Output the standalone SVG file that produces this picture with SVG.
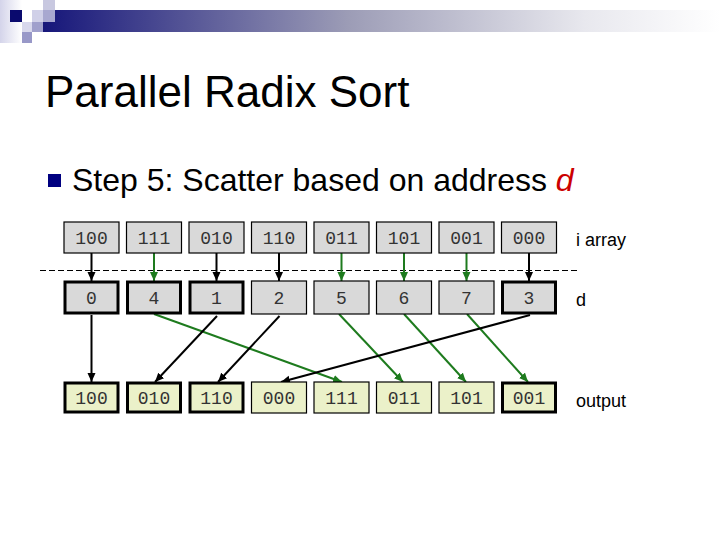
<svg xmlns="http://www.w3.org/2000/svg" width="720" height="540" viewBox="0 0 720 540">
<defs>
<linearGradient id="bar" x1="0" y1="0" x2="1" y2="0">
<stop offset="0" stop-color="#16167a"/>
<stop offset="0.45" stop-color="#9c9cb6"/>
<stop offset="0.8" stop-color="#e8e8ee"/>
<stop offset="1" stop-color="#ffffff"/>
</linearGradient>
<linearGradient id="side" x1="0" y1="0" x2="1" y2="0">
<stop offset="0" stop-color="#d4d4ea"/>
<stop offset="1" stop-color="#ffffff"/>
</linearGradient>
<marker id="ak" markerUnits="userSpaceOnUse" markerWidth="10" markerHeight="10" refX="9" refY="4" orient="auto">
<path d="M0,0 L9,4 L0,8 z" fill="#000"/>
</marker>
<marker id="ag" markerUnits="userSpaceOnUse" markerWidth="10" markerHeight="10" refX="9" refY="4" orient="auto">
<path d="M0,0 L9,4 L0,8 z" fill="#1e7b1e"/>
</marker>
<style>
.gb{fill:#d9d9d9;stroke:#000;stroke-width:1.2}
.yb{fill:#ebf1c9;stroke:#000;stroke-width:1.2}
.thick{stroke-width:3}
.bt{font-family:"Liberation Mono","Courier New",monospace;font-size:18px;fill:#333;text-anchor:middle}
.lab{font-family:"Liberation Sans",Arial,sans-serif;font-size:18px;fill:#000}
.k{stroke:#000;stroke-width:2;fill:none;marker-end:url(#ak)}
.g{stroke:#1e7b1e;stroke-width:2;fill:none;marker-end:url(#ag)}
</style>
</defs>
<rect width="720" height="540" fill="#fff"/>
<g id="header">
<rect x="0" y="0" width="22" height="43" fill="url(#side)"/>
<rect x="43" y="10" width="677" height="22" fill="url(#bar)"/>
<rect x="10" y="10" width="12" height="12" fill="#0a0a6e"/>
<rect x="32" y="10" width="11" height="12" fill="#d0d0e8"/>
<rect x="43" y="0" width="12" height="10" fill="#c8c8e0"/>
<rect x="43" y="10" width="12" height="12" fill="#a8a8d0"/>
<rect x="22" y="22" width="10" height="10" fill="#d8d8ec"/>
<rect x="32" y="22" width="11" height="10" fill="#a0a0cc"/>
<rect x="22" y="32" width="10" height="11" fill="#9898c8"/>
</g>
<text id="title" x="45" y="107" font-family="Liberation Sans, Arial, sans-serif" font-size="44" fill="#000">Parallel Radix Sort</text>
<g id="bullet">
<rect x="48" y="174" width="13" height="13" fill="#000080"/>
<text x="72" y="191" font-family="Liberation Sans, Arial, sans-serif" font-size="32" fill="#000">Step 5: Scatter based on address <tspan fill="#cc0000" font-style="italic">d</tspan></text>
</g>
<line id="divider" x1="40" y1="270.5" x2="578" y2="270.5" stroke="#000" stroke-width="1" stroke-dasharray="6 3"/>
<g id="connectors">
<line class="k" x1="91.5" y1="253" x2="91.5" y2="281"/>
<line class="g" x1="154" y1="253" x2="154" y2="281"/>
<line class="k" x1="216.5" y1="253" x2="216.5" y2="281"/>
<line class="k" x1="279" y1="253" x2="279" y2="281"/>
<line class="g" x1="341.5" y1="253" x2="341.5" y2="281"/>
<line class="g" x1="404" y1="253" x2="404" y2="281"/>
<line class="g" x1="466.5" y1="253" x2="466.5" y2="281"/>
<line class="k" x1="529" y1="253" x2="529" y2="281"/>
<line class="k" x1="91.5" y1="315" x2="91.5" y2="382"/>
<line class="g" x1="154" y1="314" x2="342" y2="382"/>
<line class="k" x1="217" y1="316" x2="155" y2="382"/>
<line class="k" x1="279.5" y1="316" x2="218" y2="382"/>
<line class="g" x1="339" y1="314" x2="403" y2="382"/>
<line class="g" x1="404" y1="314" x2="466" y2="382"/>
<line class="g" x1="467" y1="314" x2="528" y2="382"/>
<line class="k" x1="530" y1="315" x2="281" y2="382"/>
</g>
<g id="iarray">
<g id="i0"><rect class="gb" x="64" y="222" width="55" height="31"/><text class="bt" x="91.5" y="244">100</text></g>
<g id="i1"><rect class="gb" x="126.5" y="222" width="55" height="31"/><text class="bt" x="154" y="244">111</text></g>
<g id="i2"><rect class="gb" x="189" y="222" width="55" height="31"/><text class="bt" x="216.5" y="244">010</text></g>
<g id="i3"><rect class="gb" x="251.5" y="222" width="55" height="31"/><text class="bt" x="279" y="244">110</text></g>
<g id="i4"><rect class="gb" x="314" y="222" width="55" height="31"/><text class="bt" x="341.5" y="244">011</text></g>
<g id="i5"><rect class="gb" x="376.5" y="222" width="55" height="31"/><text class="bt" x="404" y="244">101</text></g>
<g id="i6"><rect class="gb" x="439" y="222" width="55" height="31"/><text class="bt" x="466.5" y="244">001</text></g>
<g id="i7"><rect class="gb" x="501.5" y="222" width="55" height="31"/><text class="bt" x="529" y="244">000</text></g>
<text class="lab" x="576" y="246">i array</text>
</g>
<g id="darray">
<g id="d0"><rect class="gb thick" x="65" y="282" width="53" height="31"/><text class="bt" x="91.5" y="304">0</text></g>
<g id="d1"><rect class="gb thick" x="127.5" y="282" width="53" height="31"/><text class="bt" x="154" y="304">4</text></g>
<g id="d2"><rect class="gb thick" x="190" y="282" width="53" height="31"/><text class="bt" x="216.5" y="304">1</text></g>
<g id="d3"><rect class="gb" x="251.5" y="281" width="55" height="33"/><text class="bt" x="279" y="304">2</text></g>
<g id="d4"><rect class="gb" x="314" y="281" width="55" height="33"/><text class="bt" x="341.5" y="304">5</text></g>
<g id="d5"><rect class="gb" x="376.5" y="281" width="55" height="33"/><text class="bt" x="404" y="304">6</text></g>
<g id="d6"><rect class="gb" x="439" y="281" width="55" height="33"/><text class="bt" x="466.5" y="304">7</text></g>
<g id="d7"><rect class="gb thick" x="502.5" y="282" width="53" height="31"/><text class="bt" x="529" y="304">3</text></g>
<text class="lab" x="576" y="306">d</text>
</g>
<g id="output">
<g id="o0"><rect class="yb thick" x="65" y="383" width="53" height="29"/><text class="bt" x="91.5" y="404">100</text></g>
<g id="o1"><rect class="yb thick" x="127.5" y="383" width="53" height="29"/><text class="bt" x="154" y="404">010</text></g>
<g id="o2"><rect class="yb thick" x="190" y="383" width="53" height="29"/><text class="bt" x="216.5" y="404">110</text></g>
<g id="o3"><rect class="yb" x="251.5" y="382" width="55" height="31"/><text class="bt" x="279" y="404">000</text></g>
<g id="o4"><rect class="yb" x="314" y="382" width="55" height="31"/><text class="bt" x="341.5" y="404">111</text></g>
<g id="o5"><rect class="yb" x="376.5" y="382" width="55" height="31"/><text class="bt" x="404" y="404">011</text></g>
<g id="o6"><rect class="yb" x="439" y="382" width="55" height="31"/><text class="bt" x="466.5" y="404">101</text></g>
<g id="o7"><rect class="yb thick" x="502.5" y="383" width="53" height="29"/><text class="bt" x="529" y="404">001</text></g>
<text class="lab" x="576" y="407">output</text>
</g>
</svg>
